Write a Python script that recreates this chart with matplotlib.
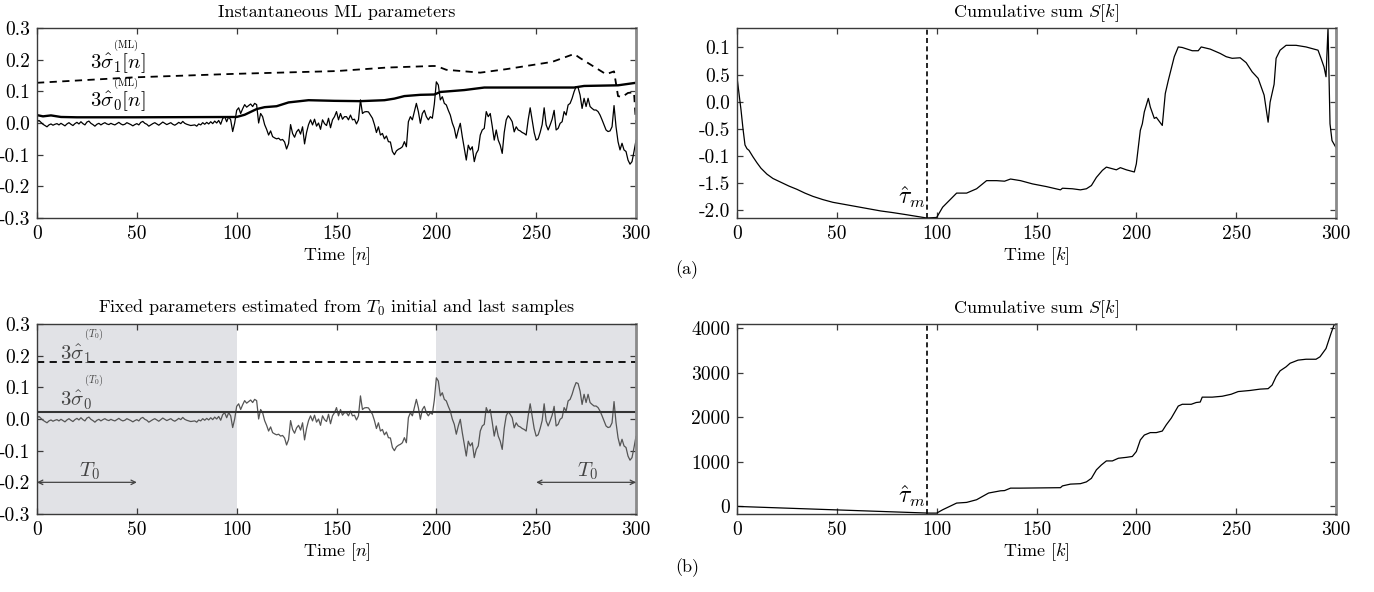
import numpy as np
import matplotlib
matplotlib.use("Agg")
import matplotlib.pyplot as plt

plt.rcParams["font.family"] = ["cmr10", "DejaVu Serif"]
plt.rcParams["mathtext.fontset"] = "cm"
plt.rcParams["axes.unicode_minus"] = False

# ---------------------------------------------------------------- data
# observed signal x[n], n = 0..300
signal = [
    0.004, 0.008, 0.002, -0.004, -0.008, -0.012, -0.006, -0.003, -0.007, -0.004,
    -0.002, -0.006, -0.001, -0.005, -0.009, -0.003, 0.001, -0.004, -0.008, -0.002,
    0.002, -0.003, 0.004, -0.002, -0.006, 0.003, 0.006, -0.001, -0.005, -0.010,
    -0.004, -0.001, -0.006, -0.002, 0.001, -0.003, -0.005, -0.001, -0.004, -0.006,
    -0.002, 0.002, -0.003, -0.006, -0.004, 0.001, -0.002, -0.005, -0.009, -0.005,
    -0.002, -0.006, 0.002, 0.005, -0.001, -0.004, -0.010, -0.006, -0.002, 0.001,
    -0.003, -0.007, -0.002, 0.003, -0.001, -0.005, -0.002, 0.001, -0.004, -0.007,
    -0.003, 0.002, -0.002, 0.005, -0.001, -0.004, -0.006, -0.008, -0.007, -0.006,
    -0.010, -0.003, -0.006, 0.001, -0.004, 0.002, -0.003, 0.004, -0.002, 0.006,
    0.000, 0.008, -0.004, 0.014, 0.020, 0.004, 0.020, 0.010, -0.027, 0.000,
    0.040, 0.048, 0.030, 0.045, 0.058, 0.050, 0.055, 0.060, 0.052, 0.062,
    0.058, 0.000, 0.030, 0.020, -0.005, -0.020, -0.038, -0.025, -0.043, -0.047,
    -0.050, -0.048, -0.054, -0.052, -0.060, -0.082, -0.065, -0.005, -0.033, -0.045,
    -0.028, -0.020, -0.035, -0.012, -0.066, -0.030, -0.005, 0.010, -0.006, 0.012,
    -0.010, 0.000, -0.020, 0.010, -0.002, -0.008, 0.015, -0.015, 0.010, 0.020,
    0.036, 0.010, 0.030, 0.012, 0.020, 0.020, 0.010, 0.025, 0.010, 0.012,
    -0.003, 0.010, 0.073, 0.030, 0.035, 0.036, 0.035, 0.025, 0.015, -0.005,
    -0.030, -0.012, -0.038, -0.033, -0.050, -0.041, -0.059, -0.060, -0.090, -0.100,
    -0.088, -0.083, -0.080, -0.075, -0.059, -0.075, 0.004, 0.020, 0.010, 0.036,
    0.062, 0.036, -0.001, 0.030, 0.040, 0.020, 0.010, 0.020, 0.015, 0.060,
    0.130, 0.120, 0.073, 0.083, 0.062, 0.057, 0.040, 0.025, 0.000, -0.017,
    -0.048, -0.022, -0.001, -0.043, -0.080, -0.117, -0.070, -0.085, -0.075, -0.122,
    -0.096, -0.085, -0.038, -0.022, -0.017, 0.036, 0.020, 0.030, -0.010, -0.054,
    -0.022, -0.054, -0.070, -0.096, -0.030, 0.010, 0.023, 0.015, 0.004, -0.028,
    -0.012, -0.022, -0.025, -0.030, -0.033, -0.038, 0.010, 0.048, 0.010, -0.030,
    -0.054, -0.050, -0.030, -0.005, 0.048, -0.006, -0.022, -0.006, 0.012, 0.040,
    -0.022, -0.017, -0.001, 0.004, 0.036, 0.025, 0.057, 0.062, 0.078, 0.099,
    0.115, 0.112, 0.088, 0.046, 0.078, 0.052, 0.078, 0.052, 0.046, 0.041,
    0.041, 0.036, 0.025, 0.010, -0.006, -0.022, -0.027, -0.025, -0.012, 0.055,
    -0.012, -0.059, -0.085, -0.064, -0.085, -0.090, -0.117, -0.130, -0.122, -0.090,
    -0.055,
]
n_signal = np.arange(len(signal))

# instantaneous ML estimates 3*sigma0[n] and 3*sigma1[n]
ml_s0_n = [0, 3, 7, 12, 20, 50, 100, 104, 110, 114, 120, 126, 136, 149, 162,
           174, 179, 184, 192, 199, 202, 206, 214, 219, 224, 269, 274, 291, 300]
ml_s0 = [0.025, 0.021, 0.024, 0.019, 0.018, 0.018, 0.019, 0.026, 0.044, 0.050,
         0.053, 0.065, 0.072, 0.070, 0.069, 0.072, 0.077, 0.085, 0.089, 0.090,
         0.098, 0.100, 0.104, 0.108, 0.112, 0.112, 0.117, 0.119, 0.127]

ml_s1_n = [0, 48, 98, 150, 175, 198, 200, 205, 222, 235, 258, 269, 272, 285,
           289, 291, 293, 296, 299, 300]
ml_s1 = [0.127, 0.144, 0.155, 0.164, 0.175, 0.180, 0.180, 0.168, 0.159, 0.170,
         0.193, 0.218, 0.205, 0.154, 0.163, 0.085, 0.082, 0.095, 0.097, 0.000]

# fixed estimates from the first and last T0 samples
T0 = 50
fixed_s0 = 0.023
fixed_s1 = 0.180
shaded_spans = [(0, 100), (200, 300)]

# cumulative sum S[k] with instantaneous parameters
cs_a_k = [0, 1, 2, 3, 4, 5, 6, 8, 10, 12, 15, 18, 22, 26, 30, 34, 38, 43, 48,
          54, 60, 66, 72, 78, 85, 90, 95, 100, 103, 110,
          115, 120, 125, 130, 134, 137, 142, 148, 155, 162, 163, 168, 172, 175,
          177.5, 180, 183, 185, 188, 190, 192, 195, 199, 200, 202, 203, 204,
          206, 207, 209, 210, 212, 213, 214.5, 216, 217.5, 219, 221, 223, 228,
          231, 232.5, 237, 242, 245, 248, 252, 255, 258, 261, 264, 266, 267,
          269, 270, 272, 275, 280, 285, 291, 292.5, 294, 295, 296, 297, 298, 300]
cs_a = [0.45, 0.15, -0.15, -0.50, -0.80, -0.87, -0.90, -1.02, -1.13, -1.23,
        -1.34, -1.42, -1.49, -1.56, -1.62, -1.69, -1.75, -1.81, -1.86,
        -1.90, -1.94, -1.98, -2.02, -2.05, -2.09, -2.12, -2.15, -2.14, -1.95, -1.69,
        -1.69, -1.61, -1.46, -1.46, -1.47, -1.43, -1.46, -1.52, -1.57, -1.63,
        -1.60, -1.61, -1.63, -1.61, -1.55, -1.40, -1.27, -1.21, -1.24, -1.26,
        -1.22, -1.26, -1.30, -1.15, -0.53, -0.41, -0.19, 0.06, -0.10, -0.31,
        -0.29, -0.39, -0.44, 0.15, 0.39, 0.61, 0.83, 1.01, 1.00, 0.94,
        0.94, 1.01, 0.97, 0.89, 0.83, 0.80, 0.81, 0.72, 0.55, 0.43,
        0.12, -0.38, -0.01, 0.32, 0.80, 0.95, 1.04, 1.04, 1.01, 0.95,
        0.80, 0.64, 0.46, 1.36, -0.41, -0.72, -0.85]
cs_a_ticks = [1.0, 0.5, 0.0, -0.5, -1.0, -1.5, -2.0]
cs_a_ticklabels = ["0.1", "0.5", "0.0", "-0.5", "-0.1", "-1.5", "-2.0"]

# cumulative sum S[k] with fixed parameters
cs_b_k = [0, 96, 100, 103, 110, 115, 120, 123, 126, 132, 134, 137, 142, 162,
          163, 167, 172, 175, 177.5, 180, 182.5, 185, 188, 191, 195, 198, 200,
          202, 204, 207, 210, 213, 215, 217.5, 221, 223, 227.5, 230, 232, 233,
          238, 243, 247.5, 251, 257, 262, 266, 268, 270, 272, 275, 277, 281,
          285, 290, 292, 295, 297.5, 299, 300]
cs_b = [0, -150, -150, -75, 75, 90, 150, 225, 300, 350, 355, 410, 410, 420,
        460, 500, 510, 550, 630, 820, 930, 1020, 1020, 1080, 1100, 1120, 1230,
        1490, 1600, 1655, 1655, 1690, 1830, 1980, 2250, 2290, 2290, 2330, 2340,
        2450, 2450, 2470, 2515, 2575, 2600, 2630, 2640, 2720, 2910, 3040, 3130,
        3210, 3280, 3300, 3300, 3355, 3540, 3880, 4065, 4090]

tau_m = 95
x_ticks = [0, 50, 100, 150, 200, 250, 300]
lr_ticks = [0.3, 0.2, 0.1, 0.0, -0.1, -0.2, -0.3]
lr_ticklabels = ["0.3", "0.2", "0.1", "0.0", "-0.1", "-0.2", "-0.3"]

# ---------------------------------------------------------------- figure
W, H = 1374, 592
fig = plt.figure(figsize=(W / 100, H / 100), dpi=100)


def make_axes(x0, y0, x1, y1):
    return fig.add_axes([x0 / W, 1 - y1 / H, (x1 - x0) / W, (y1 - y0) / H])


spine_col = "#3a3a3a"
tick_fs = 14
title_fs = 13
label_fs = 15


def style(ax):
    for s in ax.spines.values():
        s.set_color(spine_col)
        s.set_linewidth(1.0)
    ax.spines["right"].set_color("#8a8a8a")
    ax.spines["right"].set_linewidth(2.0)
    ax.tick_params(direction="in", top=True, right=True, length=4, width=0.9,
                   color=spine_col, labelsize=tick_fs, pad=5)
    ax.set_xlim(0, 300)
    ax.set_xticks(x_ticks)
    ax.set_xticklabels([str(t) for t in x_ticks])


# estimator labels: (axes, x, y, body, tag, colour); the tag sits above the index
sigma_labels = []


def sigma_label(ax, x, y, body, sup, color="black"):
    t = ax.text(x, y, body, fontsize=label_fs, ha="left", va="center", color=color)
    sigma_labels.append((t, sup, color))


ax_a1 = make_axes(37, 28, 636, 218)
ax_a2 = make_axes(737, 28, 1336, 218)
ax_b1 = make_axes(37, 324, 636, 514)
ax_b2 = make_axes(737, 324, 1336, 514)

for ax in (ax_a1, ax_a2, ax_b1, ax_b2):
    style(ax)

# ---- (a) left: instantaneous ML parameters
ax_a1.plot(n_signal, signal, color="black", lw=0.9)
ax_a1.plot(ml_s0_n, ml_s0, color="black", lw=1.7)
ax_a1.plot(ml_s1_n, ml_s1, color="black", lw=1.3, dashes=(4, 3))
ax_a1.set_ylim(-0.3, 0.3)
ax_a1.set_yticks(lr_ticks)
ax_a1.set_yticklabels(lr_ticklabels)
ax_a1.set_title("Instantaneous ML parameters", fontsize=title_fs, pad=8)
ax_a1.set_xlabel(r"Time $[n]$", fontsize=title_fs, labelpad=2)
sigma_label(ax_a1, 26.5, 0.186, r"$3\hat{\sigma}_1[n]$", "(ML)")
sigma_label(ax_a1, 26.5, 0.066, r"$3\hat{\sigma}_0[n]$", "(ML)")

# ---- (a) right: cumulative sum
ax_a2.plot(cs_a_k, cs_a, color="black", lw=0.9)
ax_a2.axvline(tau_m, color="black", lw=1.2, dashes=(3, 2))
ax_a2.set_ylim(-2.15, 1.36)
ax_a2.set_yticks(cs_a_ticks)
ax_a2.set_yticklabels(cs_a_ticklabels)
ax_a2.set_title(r"Cumulative sum $S[k]$", fontsize=title_fs, pad=8)
ax_a2.set_xlabel(r"Time $[k]$", fontsize=title_fs, labelpad=2)
ax_a2.text(tau_m - 0.8, -1.77, r"$\hat{\tau}_m$", fontsize=17,
           ha="right", va="center")

# ---- (b) left: fixed parameters
for a, b in shaded_spans:
    ax_b1.axvspan(a, b, color="#e1e2e6", lw=0, zorder=0)
ax_b1.plot(n_signal, signal, color="#555555", lw=0.9)
ax_b1.axhline(fixed_s0, color="#333333", lw=1.5)
ax_b1.axhline(fixed_s1, color="black", lw=1.3, dashes=(4, 3))
ax_b1.set_ylim(-0.3, 0.3)
ax_b1.set_yticks(lr_ticks)
ax_b1.set_yticklabels(lr_ticklabels)
ax_b1.set_title(r"Fixed parameters estimated from $T_0$ initial and last samples",
                fontsize=title_fs, pad=8)
ax_b1.set_xlabel(r"Time $[n]$", fontsize=title_fs, labelpad=2)
sigma_label(ax_b1, 11.5, 0.205, r"$3\hat{\sigma}_1$", r"$(T_0)$", color="#444444")
sigma_label(ax_b1, 11.5, 0.060, r"$3\hat{\sigma}_0$", r"$(T_0)$", color="#444444")
arrow_kw = dict(arrowstyle="<->", color="#444444", lw=0.9,
                shrinkA=0, shrinkB=0, mutation_scale=8)
ax_b1.annotate("", xy=(0, -0.2), xytext=(T0, -0.2), arrowprops=arrow_kw)
ax_b1.annotate("", xy=(300 - T0, -0.2), xytext=(300, -0.2), arrowprops=arrow_kw)
ax_b1.text(T0 / 2 + 1.5, -0.165, r"$T_0$", fontsize=15, ha="center",
           va="center", color="#444444")
ax_b1.text(300 - T0 / 2 + 0.5, -0.165, r"$T_0$", fontsize=15, ha="center",
           va="center", color="#444444")

# ---- (b) right: cumulative sum
ax_b2.plot(cs_b_k, cs_b, color="black", lw=0.9)
ax_b2.axvline(tau_m, color="black", lw=1.2, dashes=(3, 2))
ax_b2.set_ylim(-170, 4090)
ax_b2.set_yticks([0, 1000, 2000, 3000, 4000])
ax_b2.set_yticklabels(["0", "1000", "2000", "3000", "4000"])
ax_b2.set_title(r"Cumulative sum $S[k]$", fontsize=title_fs, pad=8)
ax_b2.set_xlabel(r"Time $[k]$", fontsize=title_fs, labelpad=2)
ax_b2.text(tau_m - 0.8, 240, r"$\hat{\tau}_m$", fontsize=17,
           ha="right", va="center")

fig.text(687 / W, 1 - 270 / H, "(a)", fontsize=title_fs, ha="center", va="center")
fig.text(687 / W, 1 - 568 / H, "(b)", fontsize=title_fs, ha="center", va="center")

# place each small tag just above its label, over the index
fig.canvas.draw()
renderer = fig.canvas.get_renderer()
for t, sup, color in sigma_labels:
    bb = t.get_window_extent(renderer)
    fig.text((bb.x0 + 24) / W, (bb.y1 + 0.5) / H, sup, fontsize=7.5,
             ha="left", va="bottom", color=color)

fig.savefig("out.png", dpi=100)
